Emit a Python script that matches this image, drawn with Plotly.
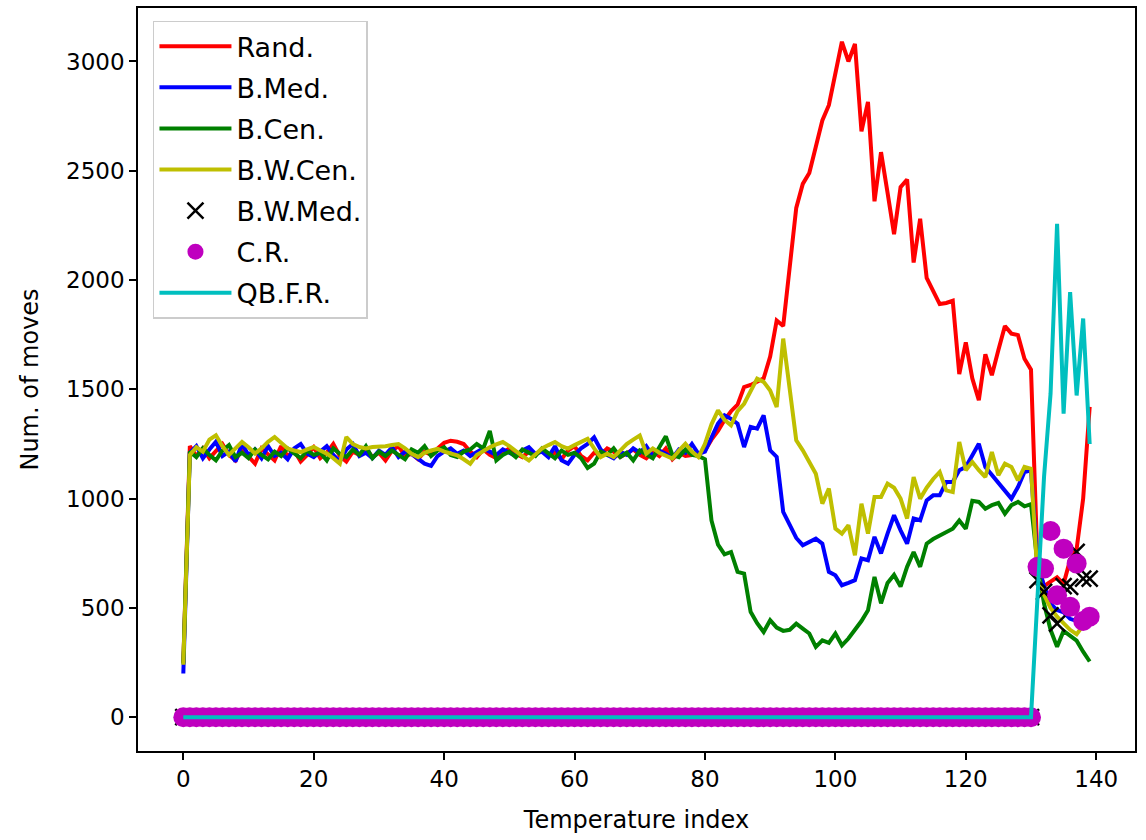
import plotly.graph_objects as go

temp_index = list(range(140))

rand = [250, 1240, 1195, 1230, 1185, 1215, 1250, 1200, 1175, 1225,
        1190, 1160, 1230, 1205, 1175, 1240, 1195, 1220, 1170, 1200,
        1235, 1185, 1210, 1250, 1195, 1170, 1215, 1200, 1230, 1190,
        1210, 1175, 1220, 1240, 1195, 1205, 1180, 1215, 1200, 1230,
        1255, 1265, 1260, 1250, 1215, 1190, 1225, 1200, 1185, 1210,
        1230, 1205, 1190, 1215, 1200, 1225, 1195, 1210, 1180, 1220,
        1240, 1195, 1175, 1210, 1200, 1230, 1215, 1190, 1205, 1225,
        1200, 1185, 1215, 1195, 1230, 1180, 1210, 1195, 1200, 1205,
        1220, 1270, 1310, 1360, 1400, 1430, 1510, 1520, 1535, 1550,
        1650, 1815, 1790, 2060, 2330, 2440, 2490, 2610, 2730, 2800,
        2950, 3090, 3000, 3080, 2680, 2815, 2360, 2585, 2400, 2210,
        2425, 2460, 2080, 2280, 2010, 1945, 1890, 1895, 1905, 1570,
        1715, 1550, 1450, 1660, 1565, 1680, 1790, 1755, 1748, 1640,
        1590, 700, 600, 620, 640, 610, 720, 770, 1000, 1420]

b_med = [200, 1210, 1240, 1185, 1225, 1260, 1195, 1215, 1170, 1250,
         1200, 1225, 1185, 1240, 1195, 1210, 1180, 1230, 1250, 1205,
         1190, 1215, 1240, 1200, 1170, 1225, 1250, 1195, 1210, 1185,
         1220, 1200, 1235, 1190, 1215, 1205, 1180, 1160, 1150, 1195,
         1215, 1230, 1205, 1220, 1195, 1210, 1230, 1215, 1200, 1225,
         1210, 1195, 1220, 1235, 1205, 1215, 1190, 1240, 1175, 1160,
         1200, 1230, 1250, 1280, 1225, 1200, 1185, 1215, 1200, 1230,
         1210, 1240, 1195, 1220, 1205, 1185, 1225, 1210, 1250, 1205,
         1215, 1280, 1343, 1381, 1365, 1343, 1236, 1328, 1320, 1381,
         1221, 1191, 939, 880, 820, 787, 800, 817, 794, 665,
         649, 604, 615, 627, 726, 718, 825, 749, 840, 924,
         855, 794, 909, 901, 992, 1015, 1015, 1076, 1076, 1130,
         1145, 1200, 1251, 1145, 1110, 1069, 1035, 1000, 1053, 1122,
         1130, 700, 600, 520, 490, 480, 450, 440, 445, 450]

b_cen = [245, 1215, 1190, 1230, 1200, 1175, 1220, 1245, 1190, 1210,
         1185, 1225, 1200, 1180, 1215, 1195, 1230, 1205, 1185, 1220,
         1200, 1210, 1175, 1230, 1205, 1190, 1225, 1200, 1240, 1185,
         1215, 1195, 1220, 1200, 1180, 1225, 1210, 1240, 1195, 1220,
         1235, 1200, 1190, 1215, 1225, 1250, 1230, 1310, 1175, 1200,
         1215, 1190, 1225, 1210, 1195, 1230, 1205, 1185, 1220, 1200,
         1210, 1185, 1140, 1160, 1215, 1200, 1230, 1190, 1210, 1175,
         1220, 1200, 1185, 1235, 1285, 1200, 1190, 1225, 1200, 1195,
         1180, 900, 790, 745, 756, 665, 657, 482, 430, 390,
         444, 410, 395, 400, 428, 405, 383, 322, 352, 340,
         383, 329, 360, 400, 440, 489, 642, 521, 614, 651,
         598, 688, 756, 688, 794, 815, 832, 847, 862, 900,
         862, 990, 985, 954, 970, 980, 931, 970, 985, 965,
         975, 700, 520, 400, 322, 395, 375, 350, 300, 255]

b_w_cen = [240, 1200, 1235, 1215, 1270, 1290, 1240, 1200, 1230, 1259,
           1235, 1206, 1230, 1260, 1282, 1255, 1229, 1220, 1213, 1225,
           1236, 1220, 1206, 1185, 1160, 1282, 1250, 1236, 1230, 1236,
           1236, 1240, 1245, 1250, 1230, 1205, 1190, 1210, 1220, 1228,
           1215, 1205, 1198, 1180, 1160, 1200, 1220, 1235, 1248, 1259,
           1240, 1215, 1195, 1175, 1200, 1230, 1245, 1259, 1240, 1229,
           1245, 1260, 1274, 1230, 1190, 1205, 1190, 1220, 1250, 1270,
           1289, 1206, 1230, 1210, 1195, 1183, 1220, 1251, 1215, 1190,
           1250, 1340, 1404, 1360, 1335, 1400, 1434, 1495, 1549, 1534,
           1495, 1419, 1732, 1500, 1267, 1221, 1170, 1114, 977, 1046,
           863, 840, 878, 741, 977, 840, 1008, 1008, 1069, 1050,
           1000, 909, 1099, 1000, 1050, 1090, 1122, 1038, 1030, 1259,
           1130, 1168, 1130, 1099, 1213, 1107, 1160, 1145, 1084, 1145,
           1137, 640, 560, 500, 460, 430, 400, 380, 420, 440]

b_w_med = [0] * 131 + [627, 573, 466, 428, 600, 596, 756, 634, 634]
c_r = [0] * 131 + [688, 680, 852, 558, 771, 505, 703, 440, 460]
qb_f_r = [0] * 131 + [550, 1100, 1480, 2257, 1389, 1945, 1472, 1824, 1250]

x_ticks = [0, 20, 40, 60, 80, 100, 120, 140]
y_ticks = [0, 500, 1000, 1500, 2000, 2500, 3000]

FONT = "DejaVu Sans"
LW = 4

fig = go.Figure()

def add_line(name, values, color):
    fig.add_trace(go.Scatter(x=temp_index, y=values, mode="lines", name=name,
                             legendgroup=name,
                             line=dict(color=color, width=LW)))

add_line("Rand.", rand, "#ff0000")
add_line("B.Med.", b_med, "#0000ff")
add_line("B.Cen.", b_cen, "#008000")
add_line("B.W.Cen.", b_w_cen, "#bfbf00")
fig.add_trace(go.Scatter(x=temp_index, y=b_w_med, mode="markers", name="B.W.Med.",
                         legendgroup="B.W.Med.",
                         marker=dict(symbol="x-thin", size=16, color="black",
                                     line=dict(color="black", width=2.5))))
fig.add_trace(go.Scatter(x=temp_index, y=c_r, mode="markers", name="C.R.",
                         legendgroup="C.R.",
                         marker=dict(symbol="circle", size=20, color="#bf00bf",
                                     line=dict(width=0))))
add_line("QB.F.R.", qb_f_r, "#00bfbf")

fig.update_layout(
    width=1146, height=840,
    margin=dict(l=138, r=11, t=8, b=89, autoexpand=False),
    paper_bgcolor="white", plot_bgcolor="white",
    font=dict(family=FONT, size=23, color="black"),
    showlegend=True,
    legend=dict(x=0.015, y=0.983, xanchor="left", yanchor="top",
                bgcolor="rgba(255,255,255,0.8)", bordercolor="#cccccc",
                borderwidth=1.5, font=dict(family=FONT, size=27),
                tracegroupgap=3, itemwidth=72),
)
fig.update_xaxes(range=[-6.95, 145.95], tickvals=x_ticks, showgrid=False,
                 zeroline=False, showline=True, linecolor="black", linewidth=1.5,
                 mirror=True, ticks="outside", ticklen=7, tickwidth=1.5,
                 tickcolor="black", tickfont=dict(size=23),
                 title=dict(text="Temperature index", font=dict(size=24), standoff=20))
fig.update_yaxes(range=[-154.5, 3244.5], tickvals=y_ticks, showgrid=False,
                 zeroline=False, showline=True, linecolor="black", linewidth=1.5,
                 mirror=True, ticks="outside", ticklen=7, tickwidth=1.5,
                 tickcolor="black", tickfont=dict(size=23),
                 title=dict(text="Num. of moves", font=dict(size=24), standoff=21))

fig.write_html("out.html", config={"displayModeBar": False},
               post_script="document.body.style.margin='0';")
